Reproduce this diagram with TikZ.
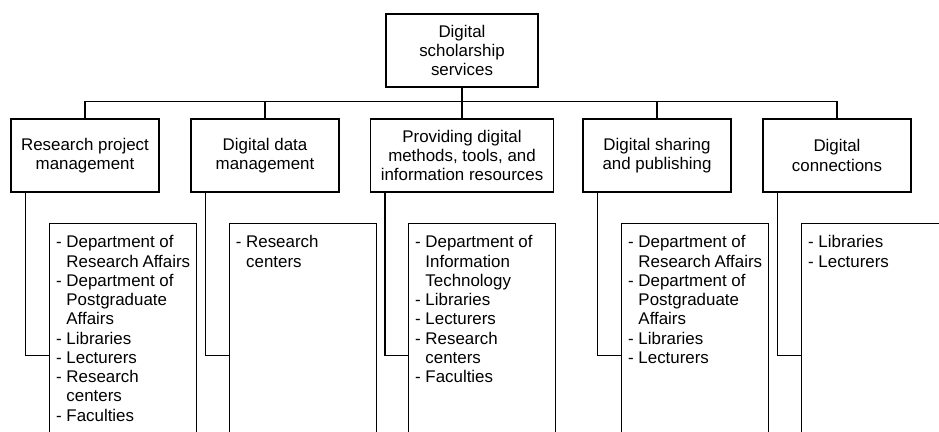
\documentclass[tikz,border=0pt]{standalone}
\usepackage{fontspec}
\setmainfont{Liberation Sans}
\newcommand\contind{\hphantom{- }}
\begin{document}
\begin{tikzpicture}[x=1pt,y=1pt,
  every node/.style={font=\fontsize{16.9}{19.25}\selectfont, text=black},
  box/.style={draw, line width=1.3pt, minimum width=148pt, minimum height=73pt, align=center, inner sep=2pt},
  topbox/.style={box, minimum width=152pt},
  widebox/.style={box, minimum width=182.6pt},
  listbox/.style={draw, line width=1.3pt, anchor=north west, inner xsep=6.5pt, inner ysep=11pt, align=left},
  conn/.style={line width=1.3pt}]
\useasboundingbox (0,0) rectangle (939,431);
\clip (0,0) rectangle (939,431);

\node[topbox] (top) at (462,380.5) {Digital\\scholarship\\services};

\node[box] (c1) at (85,275.5) {Research project\\management};
\node[box] (c2) at (265,275.5) {Digital data\\management};
\node[widebox] (c3) at (462,275.5) {Providing digital\\methods, tools, and\\information resources};
\node[box] (c4) at (657,275.5) {Digital sharing\\and publishing};
\node[box] (c5) at (837,275.5) {Digital\\connections};

\coordinate (bus) at (0,329.3);
\coordinate (jy) at (0,75.7);

\draw[conn] (c1.north) -- (c1.north |- bus) -- (c5.north |- bus) -- (c5.north);
\draw[conn] (top.south) -- (c3.north);
\draw[conn] (c2.north) -- (c2.north |- bus);
\draw[conn] (c4.north) -- (c4.north |- bus);

\node[listbox] (l1) at (49,208.3) {\parbox[t][235pt][t]{134pt}{\strut - Department of\\\contind Research Affairs\\- Department of\\\contind Postgraduate\\\contind Affairs\\- Libraries\\- Lecturers\\- Research\\\contind centers\\- Faculties}};
\node[listbox] (l2) at (228.7,208.3) {\parbox[t][235pt][t]{134pt}{\strut - Research\\\contind centers}};
\node[listbox] (l3) at (408,208.3) {\parbox[t][235pt][t]{134pt}{\strut - Department of\\\contind Information\\\contind Technology\\- Libraries\\- Lecturers\\- Research\\\contind centers\\- Faculties}};
\node[listbox] (l4) at (621,208.3) {\parbox[t][235pt][t]{134pt}{\strut - Department of\\\contind Research Affairs\\- Department of\\\contind Postgraduate\\\contind Affairs\\- Libraries\\- Lecturers}};
\node[listbox] (l5) at (801,208.3) {\parbox[t][235pt][t]{134pt}{\strut - Libraries\\- Lecturers}};

\foreach \i in {1,...,5} {
  \draw[conn] ([xshift=15pt]c\i.south west) |- (l\i.north west |- jy);
}
\end{tikzpicture}
\end{document}
